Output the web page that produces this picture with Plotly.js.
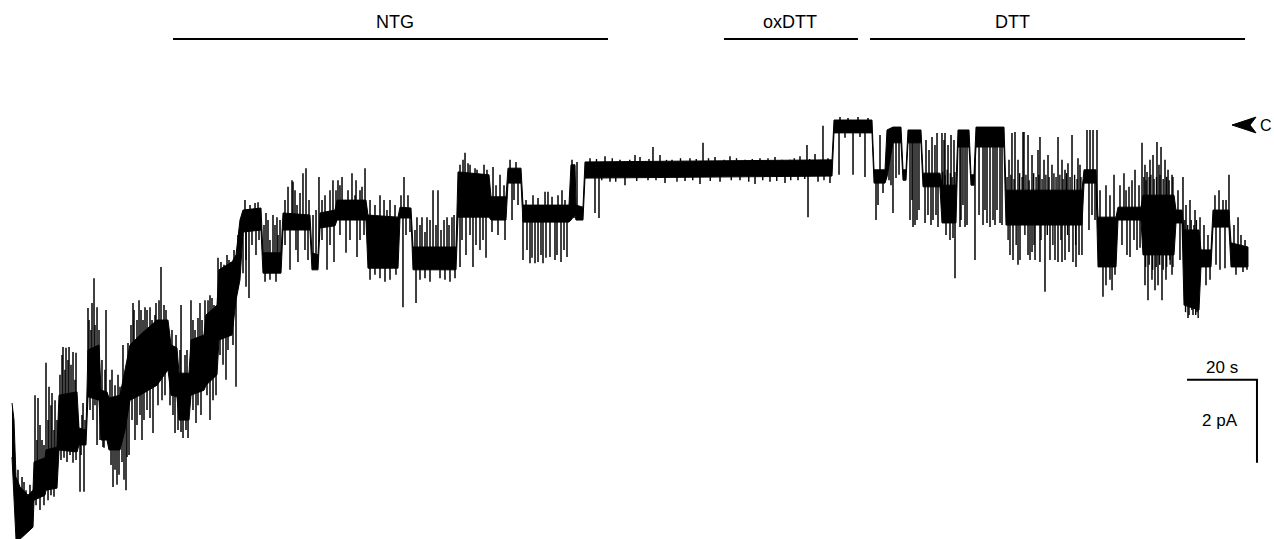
<!DOCTYPE html>
<html>
<head>
<meta charset="utf-8">
<script src="https://cdn.plot.ly/plotly-3.0.1.min.js"></script>
<style>
html,body{margin:0;padding:0;background:#fff;overflow:hidden;}
#chart{width:1274px;height:539px;}
</style>
</head>
<body>
<div id="chart"></div>
<script>
// Single-channel current record. Time in s, current in pA relative to closed level (C = 0).
// Envelope of the current band (dwell noise).
const envT = [0,0.57,1.14,2.29,4.57,6.0,6.29,9.43,9.71,12.86,13.43,18.57,19.14,21.14,21.71,24.86,25.43,27.14,27.71,30.86,32.29,33.71,36.57,41.43,44.57,45.43,47.14,47.71,50.57,51.14,54.86,55.43,58.57,59.14,62.86,64.0,65.14,66.0,71.14,71.71,76.86,77.43,85.14,85.71,87.43,88.0,92.29,92.86,101.14,101.71,110.29,110.86,114.0,114.57,126.86,127.43,136.29,136.86,141.14,141.71,145.43,146.0,159.14,159.71,160.86,161.14,163.14,163.71,234.29,234.86,245.71,246.29,249.43,250.0,251.71,254.0,254.57,255.43,256.0,259.71,260.29,265.14,265.71,269.71,270.29,273.43,274.0,274.86,275.43,283.43,284.0,305.71,306.29,309.71,310.29,315.43,316.0,322.57,323.14,332.0,332.57,334.29,334.86,339.14,339.71,342.57,343.14,347.71,348.29,353.14];
const envHi = [-6.70,-7.11,-8.48,-8.72,-8.92,-8.80,-8.12,-8.02,-7.83,-7.76,-6.51,-6.43,-7.30,-7.35,-5.42,-5.30,-6.39,-6.43,-6.58,-6.51,-5.90,-5.30,-5.06,-4.70,-4.70,-5.30,-5.37,-5.98,-5.98,-5.18,-5.06,-4.58,-4.34,-3.49,-3.30,-3.13,-2.29,-2.05,-2.00,-3.08,-3.08,-2.12,-2.17,-3.08,-3.13,-2.12,-2.05,-1.81,-1.81,-2.17,-2.22,-1.98,-2.00,-2.94,-2.94,-1.13,-1.20,-1.73,-1.73,-1.04,-1.04,-1.93,-1.93,-0.96,-0.96,-1.93,-1.98,-0.89,-0.84,0.12,0.12,-1.08,-1.08,-0.12,-0.05,-0.05,-1.08,-1.08,-0.12,-0.12,-1.16,-1.16,-1.45,-1.45,-0.12,-0.12,-1.20,-1.20,-0.05,-0.05,-1.57,-1.57,-1.08,-1.08,-2.22,-2.22,-1.98,-1.98,-1.69,-1.69,-2.05,-2.05,-2.53,-2.53,-3.01,-3.01,-2.05,-2.05,-2.84,-2.94];
const envLo = [-8.00,-8.87,-9.98,-9.98,-9.81,-9.69,-9.04,-8.92,-8.80,-8.75,-7.83,-7.88,-7.71,-7.71,-6.55,-6.63,-7.59,-7.59,-7.83,-7.83,-7.35,-6.63,-6.51,-6.27,-5.90,-6.51,-6.55,-7.11,-7.11,-6.51,-6.39,-6.27,-6.02,-5.18,-5.06,-4.22,-3.73,-2.58,-2.53,-3.57,-3.57,-2.53,-2.53,-3.49,-3.49,-2.48,-2.43,-2.29,-2.29,-3.45,-3.45,-2.24,-2.24,-3.49,-3.49,-2.22,-2.22,-2.29,-2.29,-1.40,-1.40,-2.34,-2.34,-2.29,-2.17,-2.29,-2.29,-1.28,-1.23,-0.19,-0.19,-1.40,-1.40,-1.25,-0.43,-0.43,-1.33,-1.33,-0.43,-0.43,-1.49,-1.49,-2.36,-2.36,-0.53,-0.53,-1.45,-1.45,-0.53,-0.53,-2.41,-2.41,-1.40,-1.40,-3.42,-3.42,-2.29,-2.29,-3.13,-3.13,-2.36,-2.36,-4.34,-4.46,-3.42,-3.42,-2.46,-2.46,-3.42,-3.42];

// Large brief transitions: time (s) and current at the tip (pA).
const spkT = [2.86,4.0,6.57,7.43,8.57,9.71,10.57,11.43,12.29,14.57,15.43,16.29,17.43,18.29,17.43,19.43,20.57,20.29,21.71,22.86,23.43,24.29,24.29,26.0,26.86,28.86,30.0,30.86,32.57,33.14,32.86,34.57,36.29,35.14,37.14,38.0,39.43,40.29,41.14,42.57,46.57,48.29,48.86,50.29,51.14,52.57,53.71,55.14,56.57,56.57,58.86,61.14,61.43,64.0,66.0,66.86,67.71,
72.57,74.57,75.71,76.57,78.86,79.43,80.0,80.29,82.29,83.14,84.0,87.71,90.0,91.71,93.14,94.29,95.43,97.14,98.29,98.57,100.0,100.86,107.14,111.71,112.0,115.43,115.71,117.14,118.57,120.29,121.71,124.29,125.71,128.0,129.43,130.29,131.71,132.86,133.71,137.43,142.86,146.0,148.0,149.43,151.71,152.29,153.71,154.29,155.14,158.57,162.29,
166.57,167.71,178.0,183.14,197.43,227.14,227.43,231.71,236.29,240.29,243.71,
246.86,248.86,251.71,256.57,257.43,258.57,260.86,262.86,263.14,264.29,264.57,265.71,266.57,269.43,270.86,272.29,275.14,278.57,279.43,280.29,282.29,285.71,286.0,288.0,288.86,290.29,290.86,292.29,293.71,295.14,296.57,298.0,298.86,300.86,301.71,302.86,304.0,308.0,308.86,309.43,311.71,314.29,317.71,319.14,319.43,320.86,321.43,322.86,324.29,324.57,327.14,328.29,328.57,330.86,334.57,339.43,346.0,347.71,350.29];
const spkI = [-8.48,-8.80,-6.51,-6.58,-7.59,-5.73,-6.31,-6.46,-6.63,-5.35,-5.37,-5.35,-5.47,-5.49,-8.14,-8.84,-8.84,-6.70,-4.41,-4.29,-3.69,-4.39,-7.71,-7.76,-4.46,-8.72,-8.67,-6.31,-8.80,-5.25,-8.00,-4.29,-4.22,-7.59,-7.59,-4.39,-4.39,-7.42,-4.29,-3.42,-7.42,-4.34,-7.54,-7.54,-4.22,-7.18,-4.29,-4.22,-4.10,-7.11,-3.20,-6.14,-3.13,-6.31,-3.57,-3.90,-4.17,
-2.12,-2.17,-2.22,-2.29,-1.49,-3.49,-1.33,-1.37,-1.64,-1.16,-1.04,-1.25,-3.49,-1.33,-1.33,-1.25,-3.08,-1.16,-1.33,-3.18,-1.49,-1.04,-2.05,-4.39,-1.25,-4.29,-2.22,-2.22,-2.22,-1.57,-1.57,-2.22,-2.22,-3.42,-0.67,-0.92,-3.42,-1.08,-3.01,-1.01,-2.29,-3.25,-3.33,-3.33,-3.33,-1.61,-3.18,-1.73,-3.25,-3.18,-2.29,
-2.12,-2.24,-0.72,-0.53,-0.43,-0.48,-2.22,-0.02,-1.20,-1.20,-1.25,
-2.29,-1.64,-2.12,-2.29,-2.46,-2.29,-2.36,-0.29,-2.29,-0.19,-2.46,-0.19,-0.19,-3.69,-2.46,-2.46,-3.25,-2.36,-2.46,-2.29,-2.36,-0.19,-3.25,-3.25,-0.17,-0.24,-3.25,-3.25,-0.29,-4.02,-3.25,-3.25,-0.29,-3.25,-0.92,-0.24,-3.42,-0.12,-0.12,-2.29,-4.14,-3.98,-1.16,-1.49,-3.18,-1.08,-3.01,-0.43,-1.13,-4.22,-0.41,-0.53,-4.22,-3.25,-1.25,-2.22,-1.81,-1.20,-2.22];

// Smaller flickers at the edges of the band: time (s) and tip current (pA).
const flkT = [1.71,3.43,5.14,7.14,8.0,9.14,10.29,11.14,12.0,12.86,13.71,14.29,15.14,16.0,16.86,18.0,18.86,20.0,20.86,22.0,22.57,23.71,24.86,25.71,26.57,28.0,28.57,29.43,30.29,31.71,34.0,34.86,35.71,36.86,37.43,38.57,40.0,40.86,42.0,43.43,44.0,45.71,46.86,48.0,49.43,50.0,51.71,52.29,53.14,54.29,56.0,57.14,57.71,59.71,60.57,62.0,62.57,63.43,64.57,
6.86,8.0,9.14,10.29,11.14,12.0,14.0,14.86,15.71,16.57,18.29,19.71,22.29,23.14,23.71,25.14,26.29,28.29,29.43,30.57,31.43,32.0,33.43,34.29,35.71,36.57,37.71,38.57,39.43,41.71,42.86,43.71,45.14,46.0,47.43,48.29,49.71,51.71,53.14,54.0,55.71,57.43,58.29,59.43,60.29,61.71,63.14,
66.57,68.0,69.43,70.29,72.0,73.14,73.71,75.14,76.0,78.0,80.86,81.43,84.86,86.0,86.86,88.57,89.43,90.86,92.57,93.71,96.0,98.0,99.43,102.29,103.71,105.14,106.29,108.0,109.43,111.14,113.14,115.14,116.57,118.0,119.43,121.14,122.57,123.43,124.86,126.29,128.0,128.86,130.86,132.29,134.86,135.71,138.29,139.43,140.57,142.29,144.0,146.86,148.86,150.29,153.14,156.0,157.14,158.0,160.0,161.43,
66.86,68.57,69.71,70.57,72.29,73.71,75.43,78.0,81.14,81.71,83.71,84.57,88.57,90.86,92.0,93.71,96.57,99.43,100.57,102.29,103.71,105.14,106.57,108.0,109.71,112.57,113.71,116.57,118.0,119.43,122.29,123.71,125.14,126.57,128.57,129.71,130.86,132.57,134.57,135.43,137.14,138.86,140.86,143.43,144.57,147.14,148.57,150.29,151.14,152.57,155.71,156.86,157.71,159.43,160.57,161.71,
165.14,169.43,173.71,179.43,185.14,188.57,193.71,200.86,205.14,209.43,213.71,218.0,222.29,225.14,229.43,233.14,
170.86,175.14,181.71,186.57,192.29,196.57,202.29,208.0,212.29,216.57,220.86,224.57,230.29,233.71,
236.57,238.86,241.71,244.57,238.0,242.29,
247.43,248.0,250.57,251.14,252.57,253.43,257.14,258.0,259.14,261.14,262.0,263.71,261.71,262.57,264.0,266.29,267.43,268.29,269.14,266.86,268.0,268.86,271.14,271.71,272.86,276.29,277.43,278.0,280.86,281.43,282.86,284.86,286.57,287.43,289.14,291.43,293.14,294.86,296.0,297.14,300.0,300.86,304.57,305.14,285.14,287.43,290.29,291.43,293.71,298.86,300.0,302.0,303.14,304.86,305.71,307.14,310.0,307.71,308.57,310.86,312.57,313.71,314.86,312.57,313.71,315.14,316.57,318.29,320.0,322.0,317.14,318.57,320.57,322.29,323.71,325.14,326.0,327.71,329.43,330.29,331.43,323.71,325.71,326.57,327.43,329.71,331.43,333.14,333.71,335.43,336.57,338.0,336.0,337.43,338.57,340.57,341.71,341.14,342.29,343.71,344.86,346.86,344.0,345.14,346.57,349.14,351.14,352.29,349.71,351.71,352.86];
const flkI = [-8.31,-8.60,-8.67,-7.59,-7.23,-7.71,-7.11,-6.75,-7.35,-7.11,-6.02,-5.54,-5.90,-5.66,-5.78,-6.14,-7.11,-6.99,-7.11,-4.70,-4.94,-4.82,-4.94,-5.66,-5.90,-6.14,-5.90,-6.27,-6.02,-5.30,-4.82,-4.46,-4.70,-4.46,-4.70,-4.46,-4.70,-4.58,-4.22,-4.34,-4.46,-4.94,-5.06,-5.42,-5.54,-5.42,-4.70,-4.94,-4.65,-4.70,-4.22,-4.17,-4.34,-3.30,-3.37,-3.25,-3.30,-3.01,-2.65,
-9.16,-9.28,-9.16,-9.04,-8.92,-8.96,-8.07,-8.02,-8.12,-7.95,-8.07,-7.95,-6.87,-7.11,-6.75,-7.59,-7.78,-8.19,-8.31,-8.43,-8.12,-8.55,-7.95,-7.11,-7.23,-6.99,-7.11,-6.87,-7.06,-6.75,-6.63,-6.51,-6.75,-6.99,-7.35,-7.40,-7.35,-6.87,-6.75,-6.99,-6.51,-6.63,-6.51,-5.54,-5.78,-5.42,-5.30,
-1.81,-1.93,-1.88,-1.86,-2.41,-2.29,-2.77,-2.41,-2.65,-1.81,-1.57,-1.93,-1.81,-2.17,-2.05,-1.81,-1.69,-1.57,-1.57,-1.45,-1.57,-1.69,-1.57,-1.81,-1.93,-1.69,-1.81,-1.81,-1.93,-1.69,-1.69,-2.53,-2.41,-2.58,-2.29,-2.41,-2.53,-2.29,-2.41,-2.17,-0.96,-0.84,-0.96,-1.04,-0.96,-1.08,-1.45,-1.20,-1.45,-0.84,-0.89,-1.81,-1.69,-1.76,-1.61,-1.69,-1.57,-1.81,-0.84,-0.89,
-3.25,-2.89,-3.13,-2.77,-3.78,-3.73,-3.78,-2.89,-3.01,-3.30,-3.01,-3.25,-2.77,-2.89,-3.30,-2.65,-2.77,-2.77,-2.65,-3.73,-3.61,-3.69,-3.78,-3.73,-3.61,-2.65,-2.58,-3.73,-3.69,-3.78,-3.69,-3.73,-3.78,-3.69,-2.77,-3.13,-2.65,-2.89,-2.77,-3.20,-2.58,-2.65,-2.77,-1.81,-1.93,-3.01,-3.20,-3.30,-3.13,-3.20,-3.13,-3.30,-3.01,-2.17,-2.24,-2.05,
-0.80,-0.75,-0.84,-0.77,-0.72,-0.84,-0.80,-0.77,-0.75,-0.84,-0.80,-0.77,-0.84,-0.75,-0.70,-0.80,
-1.37,-1.45,-1.33,-1.40,-1.35,-1.42,-1.37,-1.33,-1.42,-1.37,-1.40,-1.33,-1.37,-1.40,
0.19,0.17,0.19,0.17,-0.31,-0.29,
-1.93,-0.24,-1.33,-1.45,-1.28,-1.20,-1.81,-2.41,-2.05,-0.36,-0.60,-0.48,-2.17,-2.41,-2.17,-0.36,-0.48,-0.24,-0.36,-2.65,-2.77,-2.72,-2.29,-1.93,-2.41,-2.17,-2.41,-2.05,-2.41,-2.05,-2.41,-0.84,-0.17,-0.84,-0.17,-0.72,-0.60,-0.84,-0.72,-0.96,-0.84,-1.08,-0.80,-0.96,-3.13,-3.37,-3.13,-3.06,-3.30,-3.30,-3.30,-3.06,-3.30,-3.13,-3.13,-0.12,-0.12,-2.53,-2.17,-1.57,-1.45,-1.69,-1.20,-3.86,-3.73,-3.61,-1.45,-1.57,-1.33,-1.45,-2.89,-3.13,-2.77,-2.96,-0.96,-0.84,-0.72,-0.96,-0.84,-1.08,-1.20,-3.86,-3.73,-3.98,-3.86,-3.73,-3.61,-1.57,-3.25,-1.93,-1.81,-2.05,-4.65,-4.58,-4.51,-2.41,-2.65,-3.86,-3.73,-1.69,-1.57,-1.81,-3.37,-3.49,-3.45,-2.41,-2.65,-2.77,-3.61,-3.54,-3.49];

// Fine noise excursions inside dense bursts and along the quiet stretch.
const fineT = [265.9,266.6,267.2,268.1,268.6,269.4,
284.3,285.4,286.3,287.9,288.6,289.7,290.6,291.9,292.6,293.4,294.3,295.4,296.3,297.7,298.3,299.4,300.3,301.3,302.3,303.6,304.3,305.4,
284.6,286.9,289.4,292.0,294.0,295.8,297.4,299.7,301.6,303.9,
323.4,324.0,324.9,325.4,326.3,327.0,328.0,328.9,329.9,330.6,331.7,
323.9,324.9,325.9,326.9,327.9,328.9,329.9,330.9,331.7,
335.1,335.9,336.9,337.7,338.4,335.3,336.3,337.1,338.2,338.9,
167.0,171.5,176.5,182.0,187.0,191.0,195.5,199.0,203.5,207.0,211.5,216.0,220.0,223.5,227.9,231.0,
168.5,172.5,178.5,184.0,190.0,194.5,199.5,205.5,210.5,214.5,218.5,222.5,226.5,232.0];
const fineI = [-1.13,-1.20,-1.08,-1.16,-1.25,-1.13,
-1.25,-1.20,-1.30,-1.16,-1.25,-1.20,-1.33,-1.16,-1.25,-1.20,-1.30,-1.20,-1.25,-1.16,-1.25,-1.20,-1.30,-1.16,-1.25,-1.20,-1.30,-1.25,
-2.77,-2.89,-2.65,-2.89,-2.77,-2.65,-2.89,-2.77,-2.65,-2.89,
-1.25,-1.33,-1.25,-1.20,-1.30,-1.25,-1.20,-1.30,-1.25,-1.33,-1.25,
-3.42,-3.37,-3.49,-3.42,-3.37,-3.49,-3.42,-3.37,-3.42,
-2.29,-2.41,-2.29,-2.41,-2.29,-4.51,-4.58,-4.46,-4.58,-4.65,
-0.82,-0.80,-0.84,-0.82,-0.84,-0.80,-0.82,-0.80,-0.84,-0.80,-0.82,-0.80,-0.84,-0.80,-0.82,-0.84,
-1.33,-1.37,-1.35,-1.33,-1.37,-1.33,-1.35,-1.33,-1.37,-1.33,-1.35,-1.33,-1.30,-1.33];

// Treatment periods (s)
const treatName = ["NTG","oxDTT","DTT"];
const treatStart = [46.0,203.43,245.14];
const treatEnd = [170.29,241.71,352.29];

// Scale bars
const barSec = 20, barPA = 2;
const barT0 = 335.71, barI0 = -6.14;

// --- build traces ---
function interp(arr, t){
  for (let i=0;i<envT.length-1;i++){
    if (t>=envT[i] && t<=envT[i+1]){
      const f = (envT[i+1]===envT[i]) ? 0 : (t-envT[i])/(envT[i+1]-envT[i]);
      return arr[i]+f*(arr[i+1]-arr[i]);
    }
  }
  return arr[arr.length-1];
}
const bandX = envT.concat(envT.slice().reverse());
const bandY = envHi.concat(envLo.slice().reverse());

function segs(T, I){
  const sx=[], sy=[];
  for (let i=0;i<T.length;i++){
    const mid = (interp(envHi,T[i])+interp(envLo,T[i]))/2;
    sx.push(T[i],T[i],null);
    sy.push(I[i],mid,null);
  }
  return [sx,sy];
}
const [sx,sy] = segs(spkT,spkI);
const [fx,fy] = segs(flkT,flkI);
const [gx,gy] = segs(fineT,fineI);

const data = [
  {x:bandX,y:bandY,mode:'lines',fill:'toself',fillcolor:'#000',line:{color:'#000',width:1},hoverinfo:'skip',showlegend:false},
  {x:gx,y:gy,mode:'lines',line:{color:'#000',width:1.4},hoverinfo:'skip',showlegend:false,connectgaps:false},
  {x:fx,y:fy,mode:'lines',line:{color:'#000',width:1.5},hoverinfo:'skip',showlegend:false,connectgaps:false},
  {x:sx,y:sy,mode:'lines',line:{color:'#000',width:1.5},hoverinfo:'skip',showlegend:false,connectgaps:false},
  {x:[barT0,barT0+barSec,barT0+barSec],y:[barI0,barI0,barI0-barPA],mode:'lines',line:{color:'#000',width:2},hoverinfo:'skip',showlegend:false}
];

const W=1274, H=539;
const FONT = 'Liberation Sans, Arial, Helvetica, sans-serif';
const labelPx = [395, 790, 1012];
const yTop = 1-39/H;
const shapes = [];
const annotations = [];
for (let i=0;i<treatName.length;i++){
  shapes.push({type:'line',xref:'x',yref:'paper',x0:treatStart[i],x1:treatEnd[i],y0:yTop,y1:yTop,line:{color:'#000',width:2.2}});
  annotations.push({xref:'paper',yref:'paper',x:labelPx[i]/W,y:1-22/H,text:treatName[i],showarrow:false,font:{family:FONT,size:18,color:'#000'},xanchor:'center',yanchor:'middle'});
}
// closed-level arrow
shapes.push({type:'path',xref:'paper',yref:'y',path:'M '+(1232/W)+',0 L '+(1256/W)+',0.19 L '+(1250/W)+',0 L '+(1256/W)+',-0.19 Z',fillcolor:'#000',line:{color:'#000',width:1}});
annotations.push({xref:'paper',yref:'y',x:1258/W,y:0,text:'C',showarrow:false,xanchor:'left',yanchor:'middle',font:{family:FONT,size:16,color:'#000'}});
annotations.push({xref:'paper',yref:'paper',x:1222/W,y:1-367/H,text:'20 s',showarrow:false,xanchor:'center',yanchor:'middle',font:{family:FONT,size:17,color:'#000'}});
annotations.push({xref:'paper',yref:'paper',x:1220/W,y:1-420/H,text:'2 pA',showarrow:false,xanchor:'center',yanchor:'middle',font:{family:FONT,size:17,color:'#000'}});

const layout = {
  width:W,height:H,
  margin:{l:0,r:0,t:0,b:0},
  paper_bgcolor:'#fff',plot_bgcolor:'#fff',
  xaxis:{range:[-12/3.5,(W-12)/3.5],visible:false,fixedrange:true},
  yaxis:{range:[-414/41.5,125/41.5],visible:false,fixedrange:true},
  shapes:shapes,annotations:annotations,showlegend:false
};
Plotly.newPlot('chart',data,layout,{staticPlot:true,displayModeBar:false});
</script>
</body>
</html>
